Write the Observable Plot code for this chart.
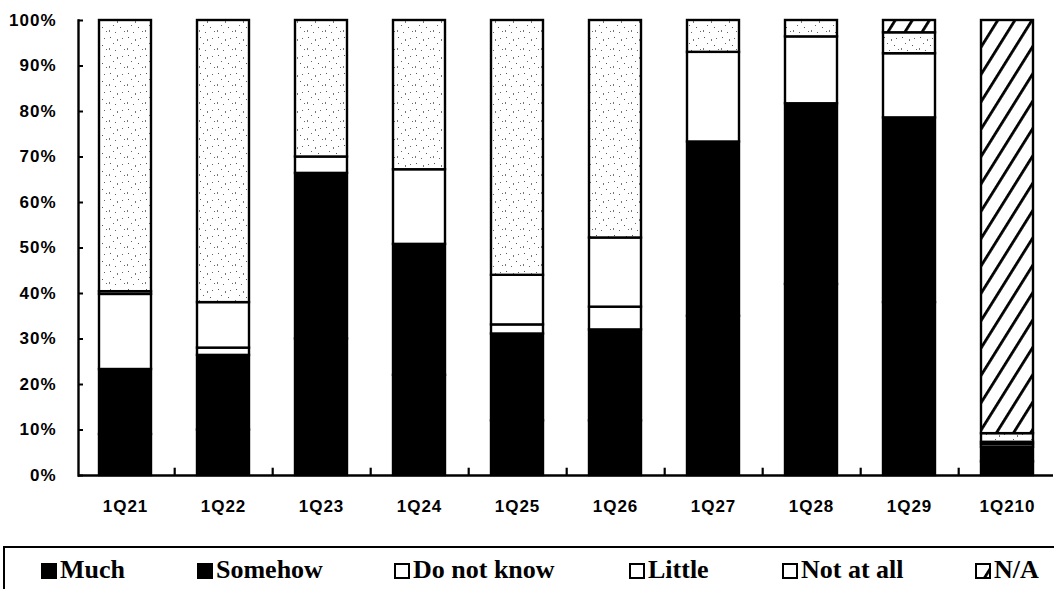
<!DOCTYPE html>
<html><head><meta charset="utf-8">
<script src="https://cdn.jsdelivr.net/npm/d3@7"></script>
<script src="https://cdn.jsdelivr.net/npm/@observablehq/plot@0.6"></script>
<style>
body{margin:0;background:#fff;width:1054px;height:589px;overflow:hidden;position:relative;}
#chart{position:absolute;left:0;top:0;}
#legend{position:absolute;left:3px;top:546px;width:1060px;height:60px;border:2px solid #000;box-sizing:border-box;font-family:"Liberation Serif","Times New Roman",serif;font-weight:bold;font-size:26px;color:#000;}
.item{position:absolute;top:9px;line-height:26px;white-space:nowrap;}
.item svg{vertical-align:-1px;margin-right:3px;}
</style></head><body>
<svg width="0" height="0" style="position:absolute">
<defs>
<pattern id="stipple" patternUnits="userSpaceOnUse" width="18" height="18">
<rect width="18" height="18" fill="#fff"/>
<rect x="2" y="1" width="1" height="1" fill="#555"/>
<rect x="9" y="3" width="1" height="2" fill="#777"/>
<rect x="14" y="2" width="1" height="1" fill="#666"/>
<rect x="5" y="7" width="1" height="1" fill="#666"/>
<rect x="12" y="9" width="1" height="1" fill="#555"/>
<rect x="1" y="12" width="1" height="2" fill="#777"/>
<rect x="7" y="14" width="1" height="1" fill="#666"/>
<rect x="16" y="13" width="1" height="1" fill="#666"/>
</pattern>
<pattern id="hatch" patternUnits="userSpaceOnUse" width="14.5" height="14" patternTransform="rotate(32)">
<rect width="14.5" height="14" fill="#fff"/>
<rect x="0" y="0" width="2.8" height="14" fill="#000"/>
</pattern>
</defs>
</svg>
<div id="chart"></div>
<div id="legend"></div>
<script>
// ---- data (percent of respondents) ----
const categories = ["1Q21","1Q22","1Q23","1Q24","1Q25","1Q26","1Q27","1Q28","1Q29","1Q210"];
const series = ["Much","Somehow","Do not know","Little","Not at all","N/A"];
const much      = [9, 10, 30, 22, 12, 12, 35, 42, 38, 3];
const somehow   = [14.3, 16.4, 36.4, 28.8, 19.1, 20, 38.3, 39.7, 40.6, 3.2];
const doNotKnow = [16.5, 1.6, 3.6, 16.4, 2, 5, 19.7, 14.7, 14.1, 0.6];
const little    = [0.6, 10, 0, 0, 10.9, 15.2, 0, 0, 0, 0.5];
const notAtAll  = [59.6, 62, 30, 32.8, 56, 47.8, 7, 3.6, 4.6, 1.9];
const na        = [0, 0, 0, 0, 0, 0, 0, 0, 2.7, 90.8];
const yTicks = [0,10,20,30,40,50,60,70,80,90,100];

const seriesValues = [much, somehow, doNotKnow, little, notAtAll, na];
const fills = ["#000","#000","#fff","#fff","url(#stipple)","url(#hatch)"];

const data = categories.flatMap((c, i) =>
  series.map((s, j) => ({category: c, series: s, value: seriesValues[j][i]}))
).filter(d => d.value > 0);

const W = 1054, mL = 78, mR = 1;
const pI = 0.47, pO = 0.19;
const step = (W - mL - mR) / (categories.length - pI + 2 * pO);

const chart = Plot.plot({
  width: W,
  height: 532,
  marginLeft: mL,
  marginRight: mR,
  marginTop: 20,
  marginBottom: 57,
  style: {fontFamily: "'Liberation Sans', Arial, sans-serif", fontWeight: "bold", fontSize: "17px", letterSpacing: "1px", color: "#000", background: "#fff"},
  x: {domain: categories, paddingInner: pI, paddingOuter: pO, label: null},
  y: {domain: [0, 100], label: null},
  color: {type: "ordinal", domain: series, range: fills},
  marks: [
    Plot.barY(data, {x: "category", y: "value", fill: "series", stroke: "#000", strokeWidth: 2.4}),
    Plot.ruleY([0], {stroke: "#000", strokeWidth: 2.4}),
    Plot.frame({anchor: "left", stroke: "#000", strokeWidth: 2.4}),
    Plot.ruleX(categories, {x: d => d, dx: step / 2, y1: 0, y2: 1.6, stroke: "#000", strokeWidth: 2.2}),
    Plot.axisY(yTicks, {tickSize: -5, tickPadding: 27, tickFormat: d => d + "%", strokeWidth: 2, fontSize: 17, fontWeight: "bold", label: null}),
    Plot.axisX({tickSize: 0, tickPadding: 24, fontSize: 17, fontWeight: "bold", label: null})
  ]
});
document.getElementById("chart").appendChild(chart);

// ---- legend ----
const legendX = [36, 192, 389, 624, 777, 970];
const legend = document.getElementById("legend");
series.forEach((s, j) => {
  const it = document.createElement("div");
  it.className = "item";
  it.style.left = legendX[j] + "px";
  it.innerHTML = `<svg width="16" height="16"><rect x="1" y="1" width="14" height="14" fill="${fills[j] === "url(#stipple)" ? "#fff" : fills[j]}" stroke="#000" stroke-width="2"/></svg>${s}`;
  legend.appendChild(it);
});
</script>
</body></html>
